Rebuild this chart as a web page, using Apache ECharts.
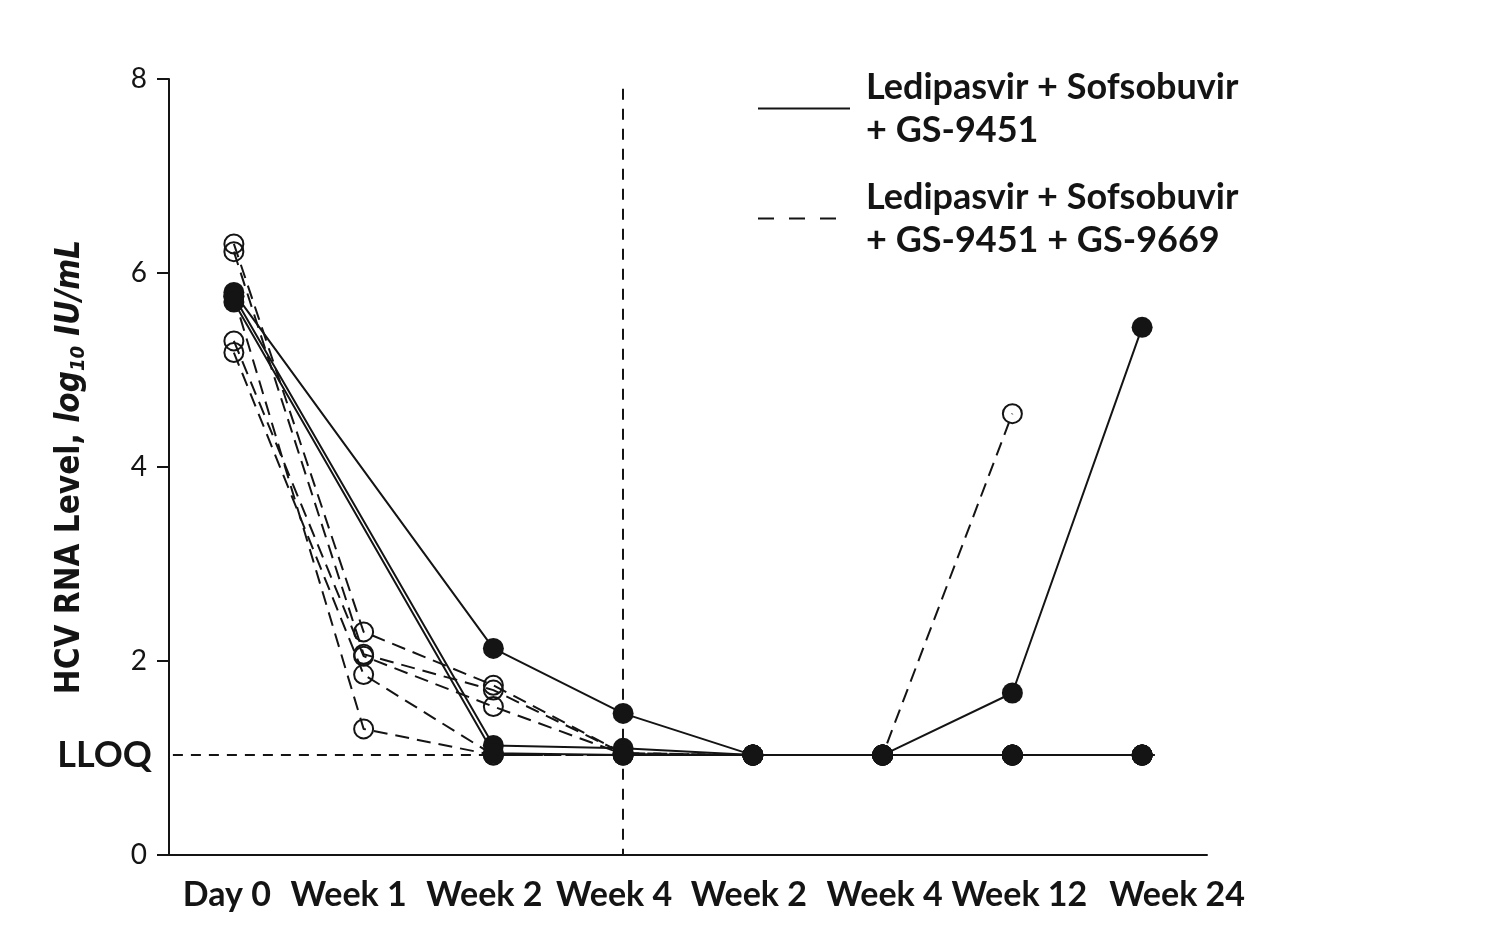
<!DOCTYPE html>
<html>
<head>
<meta charset="utf-8">
<script src="https://cdn.jsdelivr.net/npm/echarts@6/dist/echarts.min.js"></script>
<style>
  html, body { margin: 0; padding: 0; background: #fff; }
  #chart { width: 1500px; height: 925px; }
</style>
</head>
<body>
<div id="chart"></div>
<script>
// ---- data ----
const categories = ['Day 0', 'Week 1', 'Week 2', 'Week 4', 'Week 2', 'Week 4', 'Week 12', 'Week 24'];
const yTickValues = [0, 2, 4, 6, 8];
const LLOQ = 1.03;
const endOfTreatmentIndex = 3;

const groupSolidName = 'Ledipasvir + Sofsobuvir\n+ GS-9451';
const groupDashedName = 'Ledipasvir + Sofsobuvir\n+ GS-9451 + GS-9669';

// Ledipasvir + Sofsobuvir + GS-9451 (solid lines, filled circles); no Week 1 value
const solidA = [5.80, null, 2.13, 1.46, 1.03, 1.03, 1.03, 1.03];
const solidB = [5.76, null, 1.13, 1.10, 1.03, 1.03, 1.67, 5.44];
const solidC = [5.70, null, 1.05, 1.03, 1.03, 1.03, 1.03, 1.03];

// Ledipasvir + Sofsobuvir + GS-9451 + GS-9669 (dashed lines, open circles)
const dashedA = [6.30, 2.30, 1.75, 1.05, 1.03, 1.03, 4.55, null];
const dashedB = [6.22, 2.07, 1.70, 1.05, 1.03, 1.03, 1.03, 1.03];
const dashedC = [5.30, 2.05, 1.53, 1.04, 1.03, 1.03, 1.03, 1.03];
const dashedD = [5.18, 1.86, 1.03, 1.03, 1.03, 1.03, 1.03, 1.03];
const dashedE = [5.76, 1.30, 1.03, 1.03, 1.03, 1.03, 1.03, 1.03];

const solidPatients = [solidA, solidB, solidC];
const dashedPatients = [dashedA, dashedB, dashedC, dashedD, dashedE];

// ---- styling ----
const INK = '#141414';
// horizontal nudge (px) of each x label relative to its tick, as typeset in the reference
const xLabelNudge = [-7, -15, -9, -9, -4, 2, 7, 35];
const condensed = "'DejaVu Sans Condensed', 'Liberation Sans', sans-serif";

const toPairs = arr => arr.map((v, i) => (v == null ? null : [i, v])).filter(p => p !== null);

const series = [];
dashedPatients.forEach(vals => {
  series.push({
    name: groupDashedName,
    type: 'line',
    xAxisIndex: 1,
    data: toPairs(vals),
    symbol: 'circle',
    symbolSize: 19,
    itemStyle: { color: 'rgba(0,0,0,0)', borderColor: INK, borderWidth: 2 },
    lineStyle: { color: INK, width: 2, type: [14, 8] },
    z: 2,
    silent: true
  });
});
solidPatients.forEach(vals => {
  series.push({
    name: groupSolidName,
    type: 'line',
    xAxisIndex: 1,
    data: toPairs(vals),
    symbol: 'circle',
    symbolSize: 21,
    itemStyle: { color: INK, borderWidth: 0 },
    lineStyle: { color: INK, width: 2, type: 'solid' },
    z: 3,
    silent: true
  });
});
// reference lines (LLOQ and end of treatment)
series.push({
  name: 'guides',
  type: 'line',
  xAxisIndex: 1,
  data: [],
  silent: true,
  z: 1,
  markLine: {
    silent: true,
    symbol: 'none',
    animation: false,
    label: { show: false },
    data: [
      [
        {
          coord: [-0.47, LLOQ],
          lineStyle: { color: INK, width: 2, type: [10, 8] },
          label: {
            show: true, position: 'start', formatter: 'LLOQ', distance: 21,
            color: INK, fontFamily: 'Lato', fontWeight: 'bold', fontSize: 36
          }
        },
        { coord: [7.14, LLOQ] }
      ],
      [
        { coord: [endOfTreatmentIndex, 7.9], lineStyle: { color: INK, width: 2, type: [11, 9] }, label: { show: false } },
        { coord: [endOfTreatmentIndex, 0] }
      ]
    ]
  }
});

const xRich = {};
xLabelNudge.forEach((d, i) => {
  xRich['c' + i] = {
    fontFamily: 'Lato', fontWeight: 'bold', fontSize: 34, color: INK,
    padding: d >= 0 ? [0, 0, 0, 2 * d] : [0, -2 * d, 0, 0]
  };
});

const chart = echarts.init(document.getElementById('chart'), null, { renderer: 'canvas' });
chart.setOption({
  animation: false,
  backgroundColor: '#fff',
  grid: { left: 169, right: 293, top: 79, bottom: 70, containLabel: false },
  legend: {
    orient: 'vertical',
    left: 757,
    top: 53,
    padding: 0,
    itemGap: -1,
    itemWidth: 92,
    itemHeight: 14,
    selectedMode: false,
    textStyle: {
      fontFamily: 'Lato', fontWeight: 'bold', fontSize: 36, lineHeight: 43,
      color: INK, padding: [25, 0, 0, 11]
    },
    data: [
      { name: groupSolidName, itemStyle: { opacity: 0 }, lineStyle: { type: 'solid', width: 2, color: INK } },
      { name: groupDashedName, itemStyle: { opacity: 0 }, lineStyle: { type: [16, 15], width: 2, color: INK } }
    ]
  },
  xAxis: [
    {
      type: 'category',
      data: categories,
      boundaryGap: true,
      axisLine: { onZero: false, lineStyle: { color: INK, width: 2 } },
      axisTick: { alignWithLabel: true, length: 12, lineStyle: { color: INK, width: 2 } },
      axisLabel: {
        interval: 0, margin: 23, color: INK,
        fontFamily: 'Lato', fontWeight: 'bold', fontSize: 34,
        formatter: (value, index) => '{c' + index + '|' + value + '}',
        rich: xRich
      },
      splitLine: { show: false }
    },
    {
      type: 'value',
      min: -0.5,
      max: 7.5,
      show: false
    }
  ],
  yAxis: {
    type: 'value',
    min: yTickValues[0],
    max: yTickValues[yTickValues.length - 1],
    interval: 2,
    name: '{a|HCV RNA Level, }{i|log}{s|10}{i| IU/mL}',
    nameLocation: 'middle',
    nameGap: 80,
    nameRotate: 90,
    nameTextStyle: {
      rich: {
        a: { fontFamily: condensed, fontWeight: 'bold', fontSize: 33, color: INK },
        i: { fontFamily: condensed, fontWeight: 'bold', fontStyle: 'italic', fontSize: 33, color: INK },
        s: { fontFamily: condensed, fontWeight: 'bold', fontStyle: 'italic', fontSize: 20, color: INK, verticalAlign: 'bottom', lineHeight: 38 }
      }
    },
    axisLine: { show: true, onZero: false, lineStyle: { color: INK, width: 2 } },
    axisTick: { show: true, length: 12, lineStyle: { color: INK, width: 2 } },
    axisLabel: { margin: 22, color: INK, fontFamily: 'Lato', fontSize: 28 },
    splitLine: { show: false }
  },
  series: series
});
</script>
</body>
</html>
